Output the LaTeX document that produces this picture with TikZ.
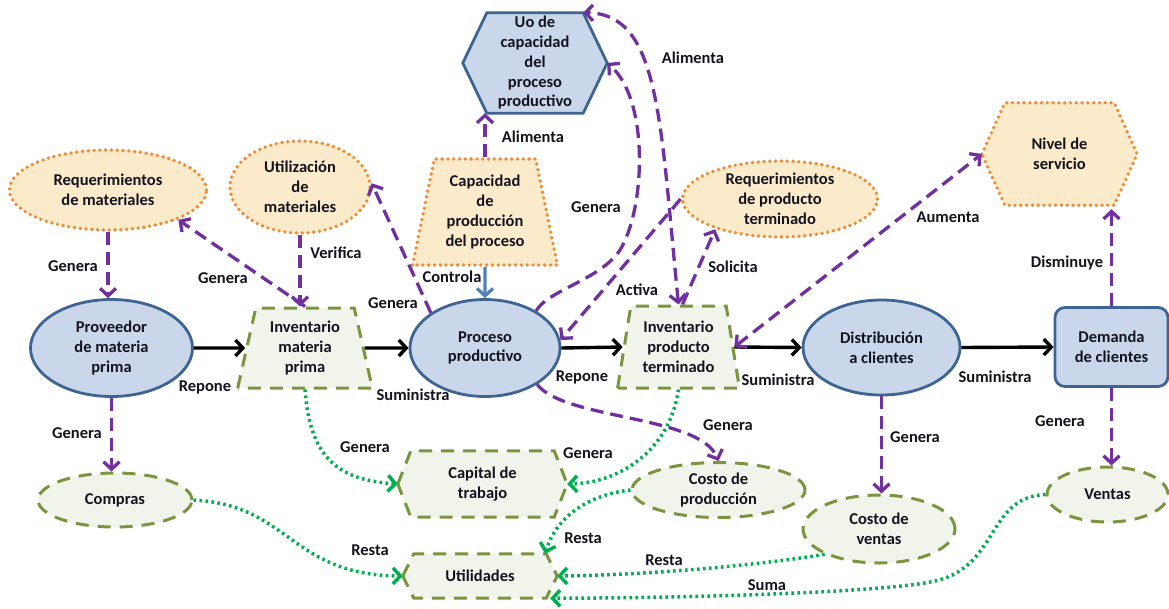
\documentclass[tikz,border=0pt]{standalone}
\usepackage{fontspec}
\setmainfont{Carlito}
\usetikzlibrary{shapes.geometric,arrows.meta,backgrounds,calc}
\definecolor{bfill}{HTML}{CAD6EA}
\definecolor{bline}{HTML}{3E6491}
\definecolor{ofill}{HTML}{FCEBCA}
\definecolor{oline}{HTML}{EF8B35}
\definecolor{gfill}{HTML}{F1F4EA}
\definecolor{gline}{HTML}{7A9440}
\definecolor{purp}{HTML}{7030A0}
\definecolor{gdot}{HTML}{00B050}
\definecolor{bctl}{HTML}{4F81BD}
\definecolor{tx}{HTML}{141420}
\newcommand\hexborder[3]{\path[#3] (#1.west) -- ([xshift=#2]#1.north west) -- ([xshift=-#2]#1.north east) -- (#1.east) -- ([xshift=-#2]#1.south east) -- ([xshift=#2]#1.south west) -- cycle;}
\tikzset{
 txt/.style={font=\fontsize{16.5}{19.75}\selectfont\bfseries, text=tx, align=center, inner sep=0pt},
 blueshape/.style={fill=bfill, draw=bline, line width=2.8pt},
 orgshape/.style={fill=ofill, draw=oline, line width=3.8pt, dash pattern=on 0pt off 5.8pt, line cap=round},
 grnshape/.style={fill=gfill, draw=gline, line width=3pt, dash pattern=on 13pt off 9pt},
 ell/.style={ellipse, txt},
 trap/.style={trapezium, trapezium stretches=true, txt},
 box/.style={rectangle, txt},
 barb/.style={-{Straight Barb[length=7.5pt,width=16pt]}},
 barbboth/.style={{Straight Barb[length=7.5pt,width=16pt]}-{Straight Barb[length=7.5pt,width=16pt]}},
 pur/.style={draw=purp, line width=3.3pt, dash pattern=on 13pt off 7pt, barb},
 blk/.style={draw=black, line width=3.4pt, barb},
 gdt/.style={draw=gdot, line width=3.5pt, dash pattern=on 2.6pt off 3.4pt, barb},
 ctl/.style={draw=bctl, line width=3.2pt, barb},
 lbl/.style={txt},
}
\begin{document}
\begin{tikzpicture}[x=1pt,y=-1pt]
\useasboundingbox (0,0) rectangle (1169,608);
% nodes
\node[box, minimum width=144pt, minimum height=100pt] (uo) at (535,63) {Uo de\\capacidad\\del\\proceso\\productivo};
\node[ell, orgshape, minimum width=197pt, minimum height=80pt] (reqmat) at (108,190) {Requerimientos\\de materiales};
\node[ell, orgshape, minimum width=140pt, minimum height=92pt] (util) at (300,187) {Utilización\\de\\materiales};
\node[trap, orgshape, minimum width=145pt, minimum height=106pt, trapezium left angle=77, trapezium right angle=77] (cap) at (485,212) {Capacidad\\de\\producción\\del proceso};
\node[ell, orgshape, minimum width=195pt, minimum height=76pt] (reqpt) at (780,199) {Requerimientos\\de producto\\terminado};
\node[box, minimum width=155pt, minimum height=102pt] (nivel) at (1059.5,154) {Nivel de\\servicio};
\node[ell, blueshape, minimum width=162pt, minimum height=97pt] (prov) at (111.5,348) {Proveedor\\de materia\\prima};
\node[trap, grnshape, minimum width=135pt, minimum height=80pt, trapezium left angle=76.5, trapezium right angle=76.5] (invmp) at (305,348) {Inventario\\materia\\prima};
\node[ell, blueshape, minimum width=150pt, minimum height=97pt] (proc) at (485,348) {Proceso\\productivo};
\node[trap, grnshape, minimum width=123pt, minimum height=82pt, trapezium left angle=79, trapezium right angle=79] (invpt) at (678.5,347) {Inventario\\producto\\terminado};
\node[ell, blueshape, minimum width=157pt, minimum height=95pt] (dist) at (881.5,347.5) {Distribución\\a clientes};
\node[box, blueshape, rounded corners=10pt, minimum width=113pt, minimum height=79pt] (dem) at (1111.5,347) {Demanda\\de clientes};
\node[ell, grnshape, minimum width=154pt, minimum height=54pt] (compras) at (115,500) {Compras};
\node[box, minimum width=169pt, minimum height=66pt] (capital) at (482.5,484) {Capital de\\trabajo};
\node[box, minimum width=154pt, minimum height=44pt] (utild) at (480,576) {Utilidades};
\node[ell, grnshape, minimum width=173pt, minimum height=55pt] (costprod) at (718.5,490) {Costo de\\producción};
\node[ell, grnshape, minimum width=152pt, minimum height=68pt] (costvent) at (879,529) {Costo de\\ventas};
\node[ell, grnshape, minimum width=121pt, minimum height=55pt] (ventas) at (1107.5,494.5) {Ventas};
% hexagon borders behind
\begin{scope}[on background layer]
\fill[white] (0,0) rectangle (1169,608);
\hexborder{uo}{24pt}{blueshape}
\hexborder{nivel}{23pt}{orgshape}
\hexborder{capital}{13pt}{grnshape}
\hexborder{utild}{11pt}{grnshape}
\end{scope}
% black flow
\draw[blk] (prov.east) -- (invmp.west);
\draw[blk] (invmp.east) -- (proc.west);
\draw[blk] (proc.east) -- (invpt.west);
\draw[blk] (invpt.east) -- (dist.west);
\draw[blk] (dist.east) -- (dem.west);
% purple
\draw[pur] (reqmat.south) -- (reqmat.south |- prov.north);
\draw[pur] (invmp.north) -- (reqmat.-23);
\draw[pur] (util.south) -- (util.south |- invmp.north);
\draw[pur] (proc.147) -- (util.3);
\draw[ctl] (cap.south) -- (proc.north);
\draw[pur] (cap.north) -- (cap.north |- uo.south);
\draw[pur] (proc.36) .. controls (548,290) and (600,280) .. (620,250) .. controls (645,210) and (650,100) .. (uo.east);
\draw[pur, barbboth] (invpt.north) .. controls (660,120) and (660,13) .. ([xshift=-24pt]uo.north east);
\draw[pur] (reqpt.west) -- (proc.6);
\draw[pur] ([xshift=4pt]invpt.north) -- (reqpt.205);
\draw[pur, barbboth] (invpt.east) -- (nivel.west);
\draw[pur, shorten >=4pt] (dem.north) -- (dem.north |- nivel.south);
\draw[pur] (dem.south) -- (dem.south |- ventas.north);
\draw[pur] (dist.south) -- (dist.south |- costvent.north);
\draw[pur] (proc.-35) .. controls (565,420) and (700,415) .. (costprod.north);
\draw[pur] (prov.south) -- (prov.south |- compras.north);
% green dotted
\draw[gdt] (invmp.south) .. controls (310,460) and (340,480) .. (capital.west);
\draw[gdt] (invpt.south) .. controls (670,450) and (620,483) .. (capital.east);
\draw[gdt] (compras.east) .. controls (290,505) and (290,575) .. (utild.west);
\draw[gdt] (costprod.west) .. controls (585,495) and (555,520) .. ([xshift=-12pt]utild.north east);
\draw[gdt] (costvent.205) .. controls (760,565) and (650,575) .. (utild.east);
\draw[gdt] (ventas.west) .. controls (985,497) and (1000,570) .. (930,582) .. controls (880,592) and (700,598) .. ([xshift=-7pt]utild.south east);
% labels
\node[lbl] (l1) at (73,266) {Genera};
\node[lbl] (l2) at (223,278) {Genera};
\node[lbl] (l3) at (336,253) {Verifica};
\node[lbl] (l4) at (393,303) {Genera};
\node[lbl] (l5) at (452,277) {Controla};
\node[lbl] (l6) at (533,137) {Alimenta};
\node[lbl] (l7) at (596,207) {Genera};
\node[lbl] (l8) at (693,58) {Alimenta};
\node[lbl] (l9) at (637,290) {Activa};
\node[lbl] (l10) at (733,267) {Solicita};
\node[lbl] (l11) at (948,217) {Aumenta};
\node[lbl] (l12) at (1067,263) {Disminuye};
\node[lbl] (l13) at (205,387) {Repone};
\node[lbl] (l14) at (413,395) {Suministra};
\node[lbl] (l15) at (582,377) {Repone};
\node[lbl] (l16) at (778,380) {Suministra};
\node[lbl] (l17) at (995,377) {Suministra};
\node[lbl] (l18) at (77,433) {Genera};
\node[lbl] (l19) at (365,447) {Genera};
\node[lbl] (l20) at (588,453) {Genera};
\node[lbl] (l21) at (728,425) {Genera};
\node[lbl] (l22) at (915,437) {Genera};
\node[lbl] (l23) at (1060,421) {Genera};
\node[lbl] (l24) at (370,550) {Resta};
\node[lbl] (l25) at (583,538) {Resta};
\node[lbl] (l26) at (664,560) {Resta};
\node[lbl] (l27) at (767,585) {Suma};
\end{tikzpicture}
\end{document}
